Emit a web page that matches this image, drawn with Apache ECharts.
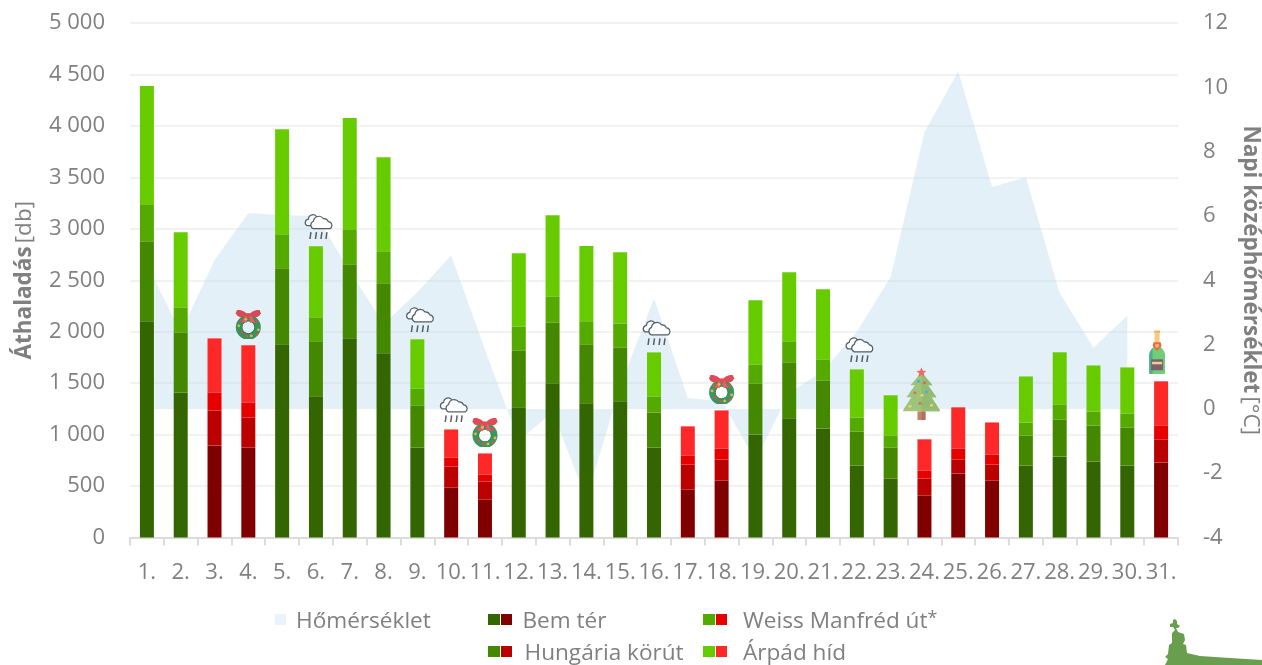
<!DOCTYPE html>
<html><head><meta charset="utf-8">
<style>html,body{margin:0;padding:0;background:#fff}#c{width:1262px;height:665px}</style>
<script src="https://cdn.jsdelivr.net/npm/echarts@6/dist/echarts.min.js"></script>
</head><body><div id="c"></div>
<script>
const days = ['1.','2.','3.','4.','5.','6.','7.','8.','9.','10.','11.','12.','13.','14.','15.','16.','17.','18.','19.','20.','21.','22.','23.','24.','25.','26.','27.','28.','29.','30.','31.'];
const bemTer   = [2101,1410,895,875,1877,1372,1936,1790,875,486,370,1265,1498,1304,1323,875,467,554,1002,1158,1060,700,574,409,623,554,700,788,739,700,730];
const hungaria = [778,584,340,292,739,535,720,681,409,204,175,554,593,574,525,340,243,204,496,545,467,331,302,165,136,156,292,360,350,370,224];
const weiss    = [360,243,175,146,331,233,340,311,165,88,68,233,253,224,233,156,88,107,185,204,204,136,117,78,107,97,126,146,136,136,136];
const arpad    = [1148,730,525,555,1021,691,1080,914,477,272,204,710,788,730,691,428,282,370,623,671,681,467,389,302,399,311,447,506,447,447,428];
const temperature = [4.5,2.38,4.63,6.09,6.02,6.0,4.3,2.63,3.63,4.78,1.85,-1.0,-0.1,-2.8,0.7,3.44,0.33,0.25,-1.6,0.5,1.17,2.4,4.1,8.6,10.5,6.9,7.2,3.6,1.9,2.9,null];
const holidayDays = [3,4,10,11,17,18,24,25,26,31];
const rainDays = [6,9,10,16,22];
const wreathDays = [4,11,18];
const treeDays = [24];
const bottleDays = [31];
const greens = ['#336600','#448800','#55aa00','#66cc00'];
const reds = ['#800000','#bb0000','#e60000','#ff2828'];
const names = ['Bem tér','Hungária körút','Weiss Manfréd út','Árpád híd'];
const tempName = 'Hőmérséklet';

const FONT = '"Open Sans", "Noto Sans", sans-serif';
const GREY = '#808080';
const svg = s => 'image://data:image/svg+xml;charset=utf-8,' + encodeURIComponent(s);

const cloudIcon = svg(`<svg xmlns="http://www.w3.org/2000/svg" viewBox="0 0 60 52" width="120" height="104">
<g fill="#fff" stroke="#2f3a45" stroke-width="2.400" stroke-linejoin="round">
<path d="M8 25a7 7 0 0 1 3-13 9 9 0 0 1 17-4 8 8 0 0 1 9 5 8 8 0 0 1 0 12z"/>
<path d="M21 31a8 8 0 0 1 0-15 11 11 0 0 1 20-5 10 10 0 0 1 10 6 7.500 7.500 0 0 1 3 14z"/></g>
<g stroke="#2f3a45" stroke-width="3" stroke-linecap="butt"><path d="M14 52l2-14M25 52l2-14M36 52l2-14M46 52l2-14"/></g>
</svg>`);

const wreathIcon = svg(`<svg xmlns="http://www.w3.org/2000/svg" viewBox="0 0 54 60" width="108" height="120">
<circle cx="27" cy="36" r="18.500" fill="none" stroke="#0b7d36" stroke-width="13"/>
<circle cx="27" cy="36" r="13" fill="none" stroke="#07642b" stroke-width="2"/>
<g fill="#d81e2c"><path d="M27 12C20 2 8 0 4 2L2 8q3 8 12 8z"/><path d="M27 12C34 2 46 0 50 2l2 6q-3 8-12 8z"/><path d="M21 12l-8 16 7-3 3 3 3-15z" fill="#ee3340"/><path d="M33 12l8 16-7-3-3 3-3-15z" fill="#ee3340"/><circle cx="27" cy="12" r="4.500"/></g>
<g fill="#f0a020"><circle cx="8" cy="33" r="2.800"/><circle cx="47" cy="41" r="2.800"/><circle cx="22" cy="20" r="2.800"/><circle cx="33" cy="53" r="2.800"/></g>
<g fill="#e02030"><circle cx="14" cy="46" r="2.800"/><circle cx="43" cy="24" r="2.800"/><circle cx="24" cy="53" r="2.800"/><circle cx="12" cy="23" r="2.800"/><circle cx="44" cy="50" r="2.500"/></g></svg>`);

const treeIcon = svg(`<svg xmlns="http://www.w3.org/2000/svg" viewBox="0 0 74 106" width="148" height="212">
<rect x="29" y="88" width="16" height="18" fill="#b5654a"/><rect x="37" y="88" width="8" height="18" fill="#9c513c"/>
<path d="M37 10L59 36 50 36 67 60 57 60 74 86Q74 88 72 88H2Q0 88 0 86L17 60 7 60 24 36 15 36z" fill="#8cb95b"/>
<path d="M37 10L59 36 50 36 67 60 57 60 74 86Q74 88 72 88H37z" fill="#7fae50"/>
<path d="M37 0l3 7 7 .500-5.500 4.500 2 7-6.500-4-6.500 4 2-7-5.500-4.500 7-.500z" fill="#ef4a3f"/>
<circle cx="31" cy="28" r="3" fill="#1aa0d8"/><circle cx="43" cy="31" r="3" fill="#e0483c"/>
<circle cx="24" cy="51" r="3" fill="#e0483c"/><circle cx="47" cy="49" r="3" fill="#1aa0d8"/><circle cx="38" cy="56" r="3" fill="#f2c94c"/>
<circle cx="14" cy="78" r="3" fill="#f2c94c"/><circle cx="34" cy="72" r="3" fill="#e0483c"/><circle cx="57" cy="76" r="3" fill="#f2c94c"/></svg>`);

const bottleIcon = svg(`<svg xmlns="http://www.w3.org/2000/svg" viewBox="0 0 32 88" width="64" height="176">
<rect x="10" y="0" width="12" height="6" fill="#e8a94e"/>
<path d="M11 6h10v20l1 4H10l1-4z" fill="#f5bd60"/>
<path d="M10 30h12c1 6 10 10 10 20v34q0 4-4 4H4q-4 0-4-4V50c0-10 9-14 10-20z" fill="#4cc257"/>
<path d="M0 50c0-7 5-11 7-15v53H4q-4 0-4-4z" fill="#1f9a70"/>
<path d="M9 24h14l2 7-9 11-9-11z" fill="#e0441f"/><circle cx="16" cy="31" r="4" fill="#f4a93c"/>
<rect x="4" y="58" width="24" height="22" fill="#5a3d4a"/><rect x="6" y="63" width="20" height="5" fill="#f2c079"/></svg>`);

const totals = days.map((_, i) => bemTer[i] + hungaria[i] + weiss[i] + arpad[i]);
const barSeries = [bemTer, hungaria, weiss, arpad].map((vals, s) => ({
  name: names[s], type: 'bar', stack: 'total', barWidth: 14, z: 3,
  itemStyle: { color: greens[s] },
  data: vals.map((v, i) => holidayDays.includes(i + 1)
    ? { value: v, itemStyle: { color: reds[s] } } : v)
}));
const iconSeries = (list, symbol, size, offset) => ({
  type: 'scatter', symbol, symbolSize: size, symbolOffset: offset, z: 6, silent: true,
  data: list.map(d => [d - 1, totals[d - 1]])
});
const textStyle = { fontFamily: FONT, fontSize: 22, color: GREY };
const legendFont = { fontFamily: FONT, fontSize: 22.6, color: GREY, lineHeight: 26, padding: [4, 0, 0, 0] };

function legendItem(name, left, top, red, extra) {
  const rich = {
    r: { backgroundColor: red, width: 11, height: 11 },
    g: { width: extra.gap, height: 11 },
    t: legendFont,
    s: { fontFamily: FONT, fontSize: 18, color: GREY, verticalAlign: 'top', padding: [3, 0, 0, 0] }
  };
  return {
    left, top, selectedMode: false, itemWidth: 12, itemHeight: 11, icon: 'rect', padding: 0,
    data: [{ name, itemStyle: { color: extra.color } }],
    formatter: () => `{r|}{g|}{t|${name}}` + (extra.star ? '{s|*}' : ''),
    textStyle: { rich, padding: [0, 0, 0, -4] }
  };
}
const nameRich = {
  b: { fontFamily: FONT, fontSize: 22.5, fontWeight: 'bold', color: GREY },
  n: { fontFamily: FONT, fontSize: 22.5, color: GREY }
};

const chart = echarts.init(document.getElementById('c'));
chart.setOption({
  animation: false,
  textStyle: { fontFamily: FONT },
  grid: { left: 130, right: 84, top: 23, bottom: 127.5, outerBoundsMode: 'none' },
  legend: [
    { left: 275, top: 606, selectedMode: false, itemWidth: 11, itemHeight: 11, icon: 'rect', padding: 0, itemGap: 0,
      data: [{ name: tempName, itemStyle: { color: '#eaf2fa' } }],
      formatter: n => `{g|}{t|${n}}`,
      textStyle: { rich: { g: { width: 5, height: 11 }, t: legendFont } } },
    legendItem(names[0], 488, 606, reds[0], { color: greens[0], gap: 10.5 }),
    legendItem(names[1], 488, 638, reds[1], { color: greens[1], gap: 12.5 }),
    legendItem(names[2], 703, 606, reds[2], { color: greens[2], gap: 16, star: true }),
    legendItem(names[3], 703, 638, reds[3], { color: greens[3], gap: 16 })
  ],
  xAxis: {
    type: 'category', data: days,
    axisLine: { lineStyle: { color: '#dcdcdc', width: 2 } },
    axisTick: { show: true, length: 8, lineStyle: { color: '#dcdcdc', width: 2 } },
    axisLabel: { interval: 0, margin: 24, ...textStyle },
    splitLine: { show: false }
  },
  yAxis: [
    { type: 'value', min: 0, max: 5000, interval: 500,
      name: '{b|Áthaladás} {n|[db]}', nameLocation: 'middle', nameRotate: 90, nameGap: 94,
      nameTextStyle: { rich: nameRich },
      axisLine: { show: false }, axisTick: { show: false },
      axisLabel: { margin: 25, ...textStyle, padding: [2, 0, 0, 0], formatter: v => String(v).replace(/\B(?=(\d{3})+$)/g, ' ') },
      splitLine: { lineStyle: { color: '#f2f2f2', width: 2 } } },
    { type: 'value', min: -4, max: 12, interval: 2,
      name: '{b|Napi középhőmérséklet} {n|[°C]}', nameLocation: 'middle', nameRotate: -90, nameGap: 60,
      nameTextStyle: { rich: nameRich },
      axisLine: { show: false }, axisTick: { show: false },
      axisLabel: { margin: 25, ...textStyle, padding: [2, 0, 0, 0] },
      splitLine: { show: false } }
  ],
  series: [
    { name: tempName, type: 'line', yAxisIndex: 1, data: temperature, showSymbol: false, symbol: 'none',
      lineStyle: { width: 0 }, z: 1, silent: true,
      itemStyle: { color: '#eaf2fa' },
      areaStyle: { color: 'rgba(184,215,237,0.55)', origin: 0 } },
    ...barSeries,
    iconSeries(rainDays, cloudIcon, [30, 26], [2, -20]),
    iconSeries(wreathDays, wreathIcon, [27, 30], [0, -21]),
    iconSeries(treeDays, treeIcon, [37, 53], [-3, -45.5]),
    iconSeries(bottleDays, bottleIcon, [16, 44], [-4, -29])
  ],
  graphic: [{
    type: 'polygon', silent: true, z: 10,
    shape: { points: [[1175,619],[1177,621],[1177,624],[1180,626],[1178,628],[1176,628],[1178,632],[1184,634],[1185,640],[1183,644],[1186,645],[1187,653],[1200,656],[1230,658],[1262,660],[1262,665],[1165,665],[1168,659],[1165,657],[1168,654],[1169,645],[1172,643],[1172,633],[1175,630],[1173,627],[1170,627],[1170,624],[1173,623],[1173,620]] },
    style: { fill: '#6a9e4f' }
  }]
});
</script></body></html>
